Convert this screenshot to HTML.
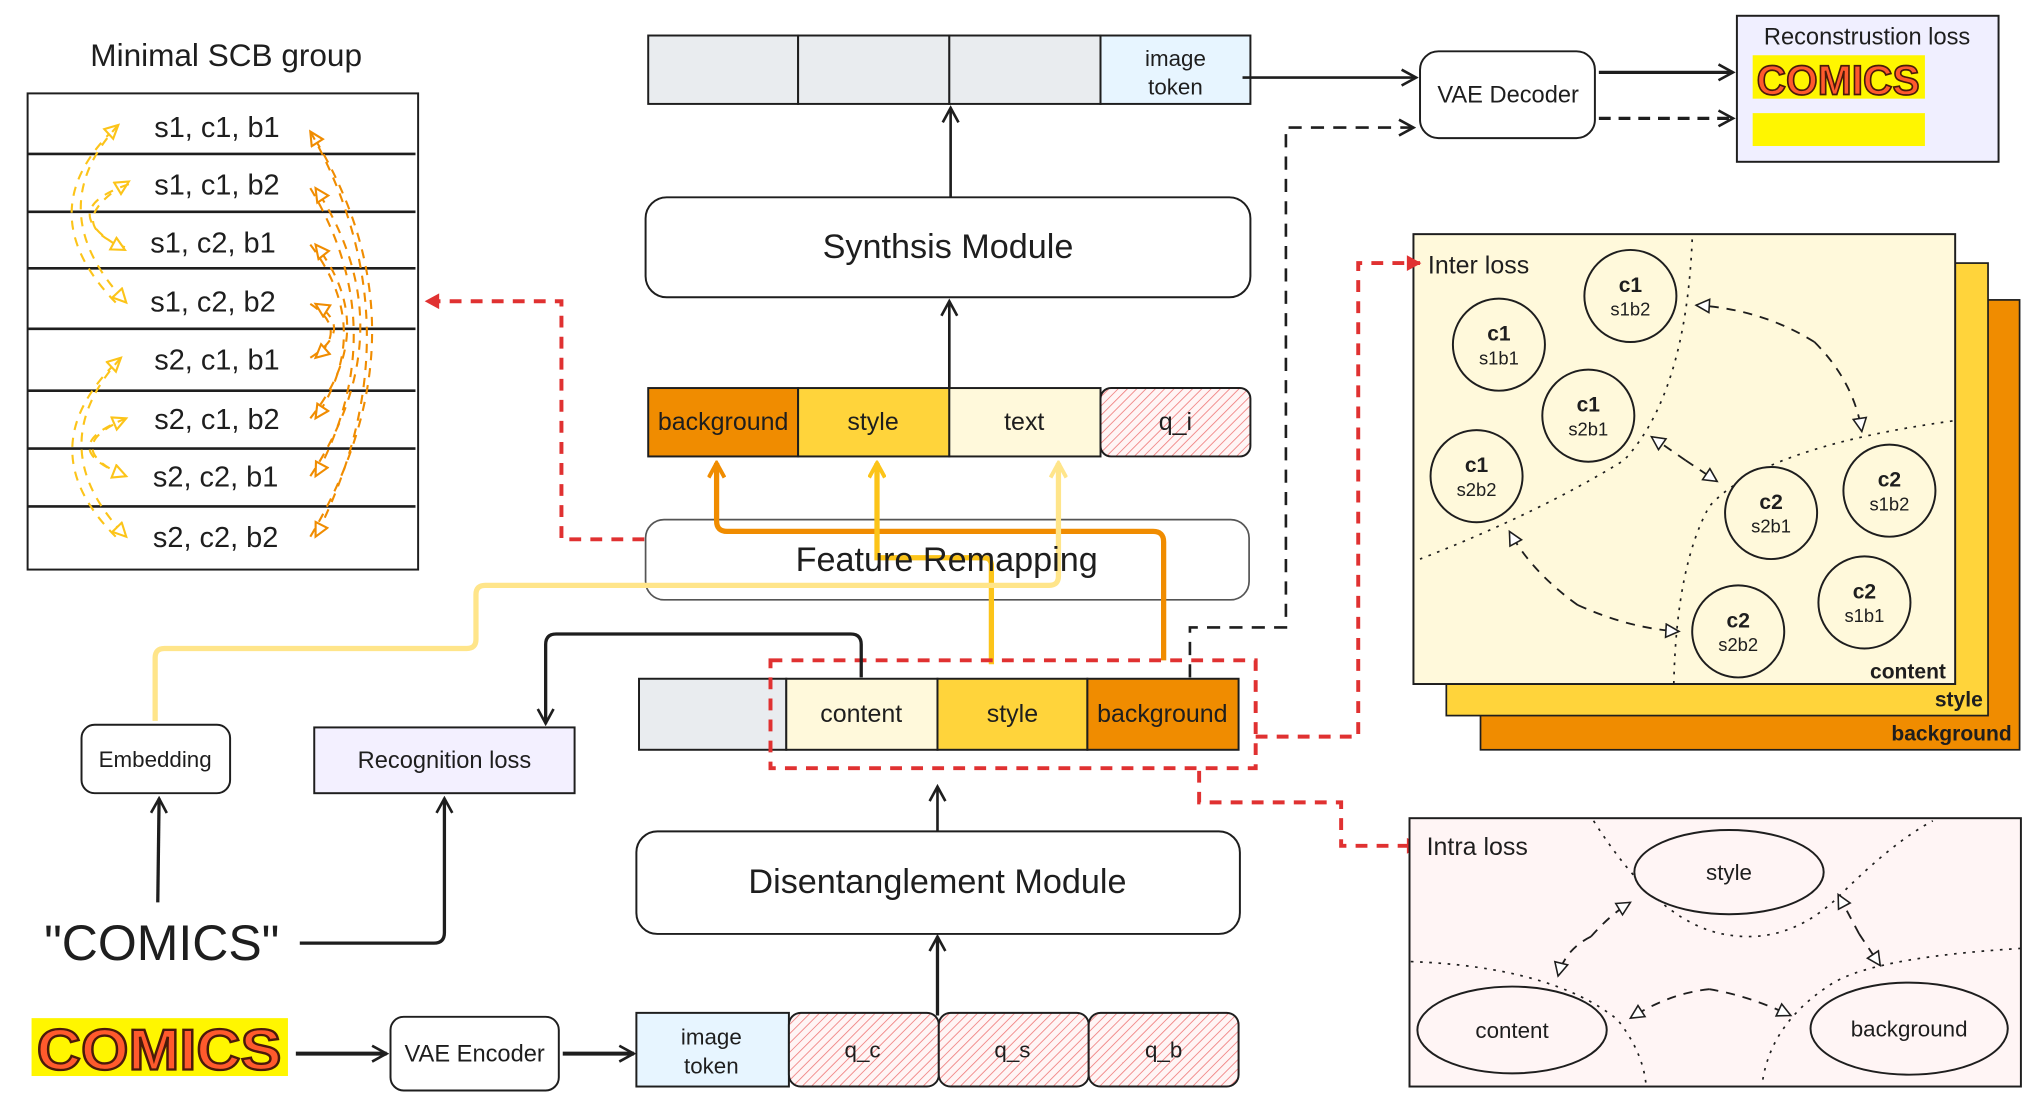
<!DOCTYPE html>
<html><head><meta charset="utf-8"><style>
html,body{margin:0;padding:0;background:#fff;}
svg{display:block;}
text{font-family:"Liberation Sans",sans-serif;fill:#1e1e1e;}
</style></head><body>
<svg width="2038" height="1101" viewBox="0 0 1550 837" preserveAspectRatio="none" xmlns="http://www.w3.org/2000/svg">
<defs>
<pattern id="hatch" patternUnits="userSpaceOnUse" width="5" height="5" patternTransform="rotate(45)">
<rect width="5" height="5" fill="#fff5f5"/><line x1="0" y1="0" x2="0" y2="5" stroke="#f08080" stroke-width="1.3"/>
</pattern>
<marker id="ab" markerWidth="14" markerHeight="14" refX="12" refY="7" orient="auto" markerUnits="userSpaceOnUse"><path d="M1,1 L12,7 L1,13" fill="none" stroke="#1e1e1e" stroke-width="2"/></marker>
<marker id="ao" markerWidth="14" markerHeight="14" refX="12" refY="7" orient="auto" markerUnits="userSpaceOnUse"><path d="M1,1 L12,7 L1,13" fill="none" stroke="#f08c00" stroke-width="3"/></marker>
<marker id="ay" markerWidth="14" markerHeight="14" refX="12" refY="7" orient="auto" markerUnits="userSpaceOnUse"><path d="M1,1 L12,7 L1,13" fill="none" stroke="#fcc419" stroke-width="3"/></marker>
<marker id="aly" markerWidth="14" markerHeight="14" refX="12" refY="7" orient="auto" markerUnits="userSpaceOnUse"><path d="M1,1 L12,7 L1,13" fill="none" stroke="#ffe58a" stroke-width="3"/></marker>
<marker id="ar" markerWidth="14" markerHeight="14" refX="11" refY="7" orient="auto" markerUnits="userSpaceOnUse"><path d="M1,1 L12,7 L1,13 Z" fill="#e03131"/></marker>
<marker id="tb" markerWidth="14" markerHeight="14" refX="11" refY="6" orient="auto" markerUnits="userSpaceOnUse"><path d="M1,1 L11,6 L1,11 Z" fill="#fff" stroke="#1e1e1e" stroke-width="1.2"/></marker>
<marker id="tby" markerWidth="14" markerHeight="14" refX="11" refY="6" orient="auto" markerUnits="userSpaceOnUse"><path d="M1,1 L11,6 L1,11 Z" fill="#fff" stroke="#fcc419" stroke-width="1.6"/></marker>
<marker id="tbo" markerWidth="14" markerHeight="14" refX="11" refY="6" orient="auto" markerUnits="userSpaceOnUse"><path d="M1,1 L11,6 L1,11 Z" fill="#fff" stroke="#f08c00" stroke-width="1.6"/></marker>
</defs>

<!-- Minimal SCB group -->
<text x="172" y="50" font-size="24" text-anchor="middle">Minimal SCB group</text>
<rect x="21" y="71" width="297" height="362" fill="#fff" stroke="#1e1e1e" stroke-width="1.5"/>
<g stroke="#1e1e1e" stroke-width="2">
<line x1="21" y1="117" x2="316" y2="117"/><line x1="21" y1="161" x2="316" y2="161"/>
<line x1="21" y1="204" x2="316" y2="204"/><line x1="21" y1="250" x2="316" y2="250"/>
<line x1="21" y1="297" x2="316" y2="297"/><line x1="21" y1="341" x2="316" y2="341"/>
<line x1="21" y1="385" x2="316" y2="385"/></g>
<g font-size="22" text-anchor="middle">
<text x="165" y="104">s1, c1, b1</text><text x="165" y="148">s1, c1, b2</text>
<text x="162" y="192">s1, c2, b1</text><text x="162" y="237">s1, c2, b2</text>
<text x="165" y="281">s2, c1, b1</text><text x="165" y="326">s2, c1, b2</text>
<text x="164" y="370">s2, c2, b1</text><text x="164" y="416">s2, c2, b2</text></g>
<g fill="none" stroke="#fcc419" stroke-width="1.6" stroke-dasharray="7 6">
<path d="M88,230 Q20,160 90,95" marker-end="url(#tby)"/>
<path d="M95,188 Q45,170 98,138" marker-end="url(#tby)"/>
<path d="M98,140 Q40,160 95,190" marker-end="url(#tby)"/>
<path d="M90,95 Q30,160 96,230" marker-end="url(#tby)"/>
<path d="M88,408 Q20,340 92,272" marker-end="url(#tby)"/>
<path d="M95,362 Q45,340 96,318" marker-end="url(#tby)"/>
<path d="M96,318 Q40,340 96,362" marker-end="url(#tby)"/>
<path d="M92,272 Q30,340 96,408" marker-end="url(#tby)"/>
</g>
<g fill="none" stroke="#f08c00" stroke-width="1.6" stroke-dasharray="7 6">
<path d="M236,408 Q330,250 236,100" marker-end="url(#tbo)"/>
<path d="M236,362 Q310,250 240,143" marker-end="url(#tbo)"/>
<path d="M236,318 Q290,250 240,186" marker-end="url(#tbo)"/>
<path d="M236,272 Q270,250 240,231" marker-end="url(#tbo)"/>
<path d="M236,100 Q320,250 240,408" marker-end="url(#tbo)"/>
<path d="M236,143 Q300,250 240,362" marker-end="url(#tbo)"/>
<path d="M236,186 Q285,250 240,318" marker-end="url(#tbo)"/>
<path d="M236,231 Q265,250 240,272" marker-end="url(#tbo)"/>
</g>

<!-- top token row -->
<g stroke="#1e1e1e" stroke-width="1.5">
<rect x="493" y="27" width="114" height="52" fill="#e9ecef"/>
<rect x="607" y="27" width="115" height="52" fill="#e9ecef"/>
<rect x="722" y="27" width="115" height="52" fill="#e9ecef"/>
<rect x="837" y="27" width="114" height="52" fill="#e7f5ff"/></g>
<text x="894" y="50" font-size="17" text-anchor="middle">image</text>
<text x="894" y="72" font-size="17" text-anchor="middle">token</text>
<line x1="723" y1="150" x2="723" y2="82" stroke="#1e1e1e" stroke-width="2" marker-end="url(#ab)"/>

<!-- Synthsis -->
<rect x="491" y="150" width="460" height="76" rx="16" fill="#fff" stroke="#1e1e1e" stroke-width="1.5"/>
<text x="721" y="196" font-size="26" text-anchor="middle">Synthsis Module</text>
<line x1="722" y1="295" x2="722" y2="229" stroke="#1e1e1e" stroke-width="2" marker-end="url(#ab)"/>

<!-- mid row -->
<g stroke="#1e1e1e" stroke-width="1.5">
<rect x="493" y="295" width="114" height="52" fill="#f08c00"/>
<rect x="607" y="295" width="115" height="52" fill="#ffd43b"/>
<rect x="722" y="295" width="115" height="52" fill="#fff9db"/>
<rect x="837" y="295" width="114" height="52" rx="8" fill="url(#hatch)"/></g>
<g font-size="19" text-anchor="middle">
<text x="550" y="327">background</text><text x="664" y="327">style</text>
<text x="779" y="327">text</text><text x="894" y="327">q_i</text></g>

<!-- Feature Remapping -->
<rect x="491" y="395" width="459" height="61" rx="14" fill="#fff" stroke="#555" stroke-width="1.3"/>
<path d="M885,502 L885,412 Q885,404 877,404 L553,404 Q545,404 545,396 L545,352" fill="none" stroke="#f08c00" stroke-width="4" marker-end="url(#ao)"/>
<path d="M754,505 L754,430 Q754,424 748,424 L667,424 L667,352" fill="none" stroke="#fcc419" stroke-width="4" marker-end="url(#ay)"/>
<path d="M118,548 L118,500 Q118,493 125,493 L355,493 Q362,493 362,486 L362,452 Q362,445 369,445 L798,445 Q805,445 805,438 L805,352" fill="none" stroke="#ffe58a" stroke-width="4" marker-end="url(#aly)"/>
<text x="720" y="434" font-size="26" text-anchor="middle">Feature Remapping</text>
<path d="M490,410 L427,410 L427,229 L324,229" fill="none" stroke="#e03131" stroke-width="3" stroke-dasharray="9 7" marker-end="url(#ar)"/>

<!-- bottom feature row -->
<g stroke="#1e1e1e" stroke-width="1.5">
<rect x="486" y="516" width="112" height="54" fill="#e9ecef"/>
<rect x="598" y="516" width="115" height="54" fill="#fff9db"/>
<rect x="713" y="516" width="114" height="54" fill="#ffd43b"/>
<rect x="827" y="516" width="115" height="54" fill="#f08c00"/></g>
<g font-size="19" text-anchor="middle">
<text x="655" y="549">content</text><text x="770" y="549">style</text><text x="884" y="549">background</text></g>
<rect x="586" y="502" width="369" height="82" fill="none" stroke="#e03131" stroke-width="3" stroke-dasharray="9 7"/>
<path d="M905,515 L905,477 L978,477 L978,97 L1075,97" fill="none" stroke="#1e1e1e" stroke-width="2" stroke-dasharray="10 7" marker-end="url(#ab)"/>
<path d="M655,515 L655,490 Q655,482 647,482 L423,482 Q415,482 415,490 L415,550" fill="none" stroke="#1e1e1e" stroke-width="2.5" marker-end="url(#ab)"/>

<!-- Embedding / recognition -->
<rect x="62" y="551" width="113" height="52" rx="10" fill="#fff" stroke="#1e1e1e" stroke-width="1.5"/>
<text x="118" y="583" font-size="17" text-anchor="middle">Embedding</text>
<rect x="239" y="553" width="198" height="50" fill="#f3f0ff" stroke="#1e1e1e" stroke-width="1.5"/>
<text x="338" y="584" font-size="18" text-anchor="middle">Recognition loss</text>
<text x="123" y="730" font-size="38" text-anchor="middle">"COMICS"</text>
<line x1="120" y1="686" x2="121" y2="607" stroke="#1e1e1e" stroke-width="2.5" marker-end="url(#ab)"/>
<path d="M228,717 L330,717 Q338,717 338,709 L338,607" fill="none" stroke="#1e1e1e" stroke-width="2.5" marker-end="url(#ab)"/>

<!-- Disentanglement -->
<rect x="484" y="632" width="459" height="78" rx="16" fill="#fff" stroke="#1e1e1e" stroke-width="1.5"/>
<text x="713" y="679" font-size="26" text-anchor="middle">Disentanglement Module</text>
<line x1="713" y1="632" x2="713" y2="598" stroke="#1e1e1e" stroke-width="2" marker-end="url(#ab)"/>
<line x1="713" y1="772" x2="713" y2="712" stroke="#1e1e1e" stroke-width="2.5" marker-end="url(#ab)"/>

<!-- bottom row -->
<g stroke="#1e1e1e" stroke-width="1.5">
<rect x="484" y="770" width="116" height="56" fill="#e7f5ff"/>
<rect x="600" y="770" width="114" height="56" rx="9" fill="url(#hatch)"/>
<rect x="714" y="770" width="114" height="56" rx="9" fill="url(#hatch)"/>
<rect x="828" y="770" width="114" height="56" rx="9" fill="url(#hatch)"/></g>
<text x="541" y="794" font-size="17" text-anchor="middle">image</text>
<text x="541" y="816" font-size="17" text-anchor="middle">token</text>
<g font-size="17" text-anchor="middle"><text x="656" y="804">q_c</text><text x="770" y="804">q_s</text><text x="885" y="804">q_b</text></g>

<!-- COMICS image -->
<rect x="24" y="774" width="195" height="44" fill="#fff600"/>
<text x="121" y="813" font-size="44" font-weight="bold" text-anchor="middle" style="fill:#ff5a2c;stroke:#4a1a0a;stroke-width:1.8" textLength="186" lengthAdjust="spacingAndGlyphs">COMICS</text>
<line x1="225" y1="801" x2="294" y2="801" stroke="#1e1e1e" stroke-width="3" marker-end="url(#ab)"/>
<rect x="297" y="773" width="128" height="56" rx="10" fill="#fff" stroke="#1e1e1e" stroke-width="1.5"/>
<text x="361" y="807" font-size="18" text-anchor="middle">VAE Encoder</text>
<line x1="428" y1="801" x2="482" y2="801" stroke="#1e1e1e" stroke-width="3" marker-end="url(#ab)"/>

<!-- VAE decoder & recon -->
<line x1="945" y1="59" x2="1077" y2="59" stroke="#1e1e1e" stroke-width="2" marker-end="url(#ab)"/>
<rect x="1080" y="39" width="133" height="66" rx="14" fill="#fff" stroke="#1e1e1e" stroke-width="1.5"/>
<text x="1147" y="78" font-size="18" text-anchor="middle">VAE Decoder</text>
<line x1="1216" y1="55" x2="1318" y2="55" stroke="#1e1e1e" stroke-width="2.5" marker-end="url(#ab)"/>
<line x1="1216" y1="90" x2="1318" y2="90" stroke="#1e1e1e" stroke-width="2.5" stroke-dasharray="9 6" marker-end="url(#ab)"/>
<rect x="1321" y="12" width="199" height="111" fill="#f0efff" stroke="#1e1e1e" stroke-width="1.5"/>
<text x="1420" y="34" font-size="18" text-anchor="middle">Reconstrustion loss</text>
<rect x="1333" y="42" width="131" height="33" fill="#fff600"/>
<text x="1398" y="72" font-size="32" font-weight="bold" text-anchor="middle" style="fill:#ff5a2c;stroke:#4a1a0a;stroke-width:1.3" textLength="124" lengthAdjust="spacingAndGlyphs">COMICS</text>
<rect x="1333" y="86" width="131" height="25" fill="#fff600"/>

<!-- Inter loss stack -->
<rect x="1126" y="228" width="410" height="342" fill="#f08c00" stroke="#1e1e1e" stroke-width="1.3"/>
<rect x="1100" y="200" width="412" height="344" fill="#ffd43b" stroke="#1e1e1e" stroke-width="1.3"/>
<rect x="1075" y="178" width="412" height="342" fill="#fff9db" stroke="#1e1e1e" stroke-width="1.5"/>
<g font-size="16" font-weight="bold" text-anchor="end">
<text x="1480" y="516">content</text><text x="1508" y="537">style</text><text x="1530" y="563">background</text></g>
<text x="1086" y="208" font-size="19">Inter loss</text>
<path d="M955,560 L1033,560 L1033,200 L1080,200" fill="none" stroke="#e03131" stroke-width="3" stroke-dasharray="9 7" marker-end="url(#ar)"/>
<g fill="none" stroke="#1e1e1e" stroke-width="1.3" stroke-dasharray="2 5">
<path d="M1287,182 Q1282,300 1235,350 Q1170,390 1080,425"/>
<path d="M1485,320 Q1340,340 1300,385 Q1275,430 1273,520"/>
</g>
<g fill="#fff9db" stroke="#1e1e1e" stroke-width="1.5">
<circle cx="1140" cy="262" r="35"/><circle cx="1240" cy="225" r="35"/>
<circle cx="1208" cy="316" r="35"/><circle cx="1123" cy="362" r="35"/>
<circle cx="1347" cy="390" r="35"/><circle cx="1437" cy="373" r="35"/>
<circle cx="1322" cy="480" r="35"/><circle cx="1418" cy="458" r="35"/></g>
<g text-anchor="middle">
<g font-size="16" font-weight="bold"><text x="1140" y="259">c1</text><text x="1240" y="222">c1</text><text x="1208" y="313">c1</text><text x="1123" y="359">c1</text>
<text x="1347" y="387">c2</text><text x="1437" y="370">c2</text><text x="1322" y="477">c2</text><text x="1418" y="455">c2</text></g>
<g font-size="14"><text x="1140" y="277">s1b1</text><text x="1240" y="240">s1b2</text><text x="1208" y="331">s2b1</text><text x="1123" y="377">s2b2</text>
<text x="1347" y="405">s2b1</text><text x="1437" y="388">s1b2</text><text x="1322" y="495">s2b2</text><text x="1418" y="473">s1b1</text></g></g>
<g fill="none" stroke="#1e1e1e" stroke-width="1.4" stroke-dasharray="7 6">
<path d="M1380,260 Q1410,290 1416,328" marker-end="url(#tb)"/>
<path d="M1380,260 Q1340,235 1290,232" marker-end="url(#tb)"/>
<path d="M1282,350 L1306,366" marker-end="url(#tb)"/>
<path d="M1282,350 L1256,332" marker-end="url(#tb)"/>
<path d="M1200,460 Q1240,478 1277,480" marker-end="url(#tb)"/>
<path d="M1200,460 Q1165,435 1148,404" marker-end="url(#tb)"/>
</g>

<!-- Intra loss -->
<path d="M912,586 L912,610 L1020,610 L1020,643 L1080,643" fill="none" stroke="#e03131" stroke-width="3" stroke-dasharray="9 7" marker-end="url(#ar)"/>
<rect x="1072" y="622" width="465" height="204" fill="#fff5f5" stroke="#1e1e1e" stroke-width="1.5"/>
<text x="1085" y="650" font-size="19">Intra loss</text>
<g fill="none" stroke="#1e1e1e" stroke-width="1.3" stroke-dasharray="2 5">
<path d="M1212,624 Q1260,700 1310,710 Q1360,720 1400,680 Q1440,640 1470,624"/>
<path d="M1073,731 Q1180,735 1230,775 Q1250,800 1252,826"/>
<path d="M1537,721 Q1420,728 1390,750 Q1345,780 1340,826"/>
</g>
<g fill="#fff5f5" stroke="#1e1e1e" stroke-width="1.5">
<ellipse cx="1315" cy="663" rx="72" ry="32"/>
<ellipse cx="1150" cy="783" rx="72" ry="33"/>
<ellipse cx="1452" cy="782" rx="75" ry="35"/></g>
<g font-size="17" text-anchor="middle"><text x="1315" y="669">style</text><text x="1150" y="789">content</text><text x="1452" y="788">background</text></g>
<g fill="none" stroke="#1e1e1e" stroke-width="1.4" stroke-dasharray="7 6">
<path d="M1210,712 Q1190,722 1185,742" marker-end="url(#tb)"/>
<path d="M1210,712 Q1225,695 1240,686" marker-end="url(#tb)"/>
<path d="M1414,710 L1430,734" marker-end="url(#tb)"/>
<path d="M1414,710 L1398,680" marker-end="url(#tb)"/>
<path d="M1300,752 Q1330,757 1362,772" marker-end="url(#tb)"/>
<path d="M1300,752 Q1270,755 1240,774" marker-end="url(#tb)"/>
</g>
</svg>
</body></html>
